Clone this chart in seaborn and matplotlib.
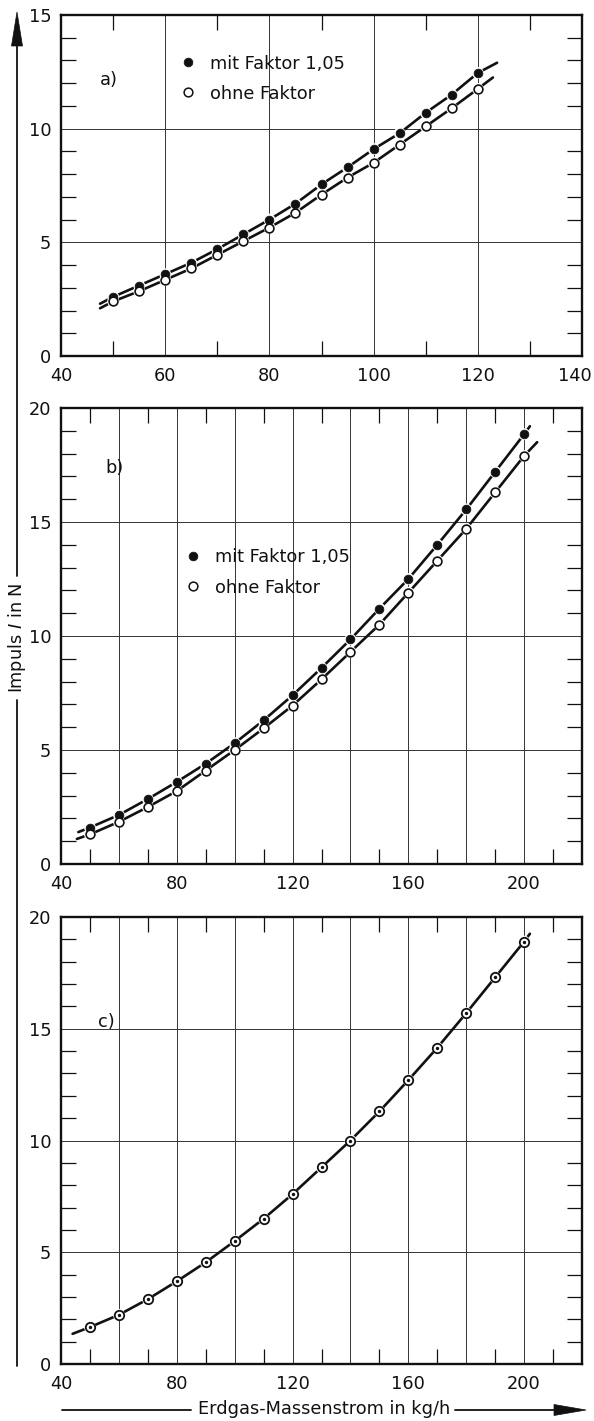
import numpy as np
import pandas as pd
import matplotlib
matplotlib.use("Agg")
import matplotlib.pyplot as plt
from matplotlib.lines import Line2D
from matplotlib.patches import Polygon
from matplotlib.transforms import IdentityTransform, ScaledTranslation
import seaborn as sns

# ---------------- data ----------------
# panel a)
a_x = [50, 55, 60, 65, 70, 75, 80, 85, 90, 95, 100, 105, 110, 115, 120]
a_mit = [2.6, 3.1, 3.6, 4.1, 4.7, 5.35, 6.0, 6.7, 7.55, 8.3, 9.1, 9.8, 10.7, 11.5, 12.45]
a_ohne = [2.4, 2.85, 3.35, 3.85, 4.45, 5.05, 5.65, 6.3, 7.1, 7.85, 8.5, 9.3, 10.1, 10.9, 11.75]
a_mit_start, a_mit_end = (47.5, 2.3), (123.7, 12.9)
a_ohne_start, a_ohne_end = (47.5, 2.1), (122.9, 12.25)

# panel b)
b_x = [50, 60, 70, 80, 90, 100, 110, 120, 130, 140, 150, 160, 170, 180, 190, 200]
b_mit = [1.6, 2.15, 2.85, 3.6, 4.4, 5.3, 6.3, 7.4, 8.6, 9.85, 11.2, 12.5, 14.0, 15.55, 17.2, 18.85]
b_ohne = [1.3, 1.85, 2.5, 3.2, 4.1, 5.0, 5.95, 6.95, 8.1, 9.3, 10.5, 11.9, 13.3, 14.7, 16.3, 17.9]
b_mit_start, b_mit_end = (46.0, 1.4), (202.0, 19.2)
b_ohne_start, b_ohne_end = (45.5, 1.1), (204.5, 18.5)

# panel c)
c_x = [50, 60, 70, 80, 90, 100, 110, 120, 130, 140, 150, 160, 170, 180, 190, 200]
c_y = [1.65, 2.2, 2.9, 3.7, 4.55, 5.5, 6.5, 7.6, 8.8, 10.0, 11.3, 12.7, 14.15, 15.7, 17.3, 18.9]
c_start, c_end = (44.0, 1.35), (202.0, 19.25)

legend_labels = ["mit Faktor 1,05", "ohne Faktor"]
panel_labels = ["a)", "b)", "c)"]
y_label = "Impuls $\\mathit{I}$ in N"
x_label = "Erdgas-Massenstrom in kg/h"

a_xticks = [40, 60, 80, 100, 120, 140]
bc_xticks = [40, 60, 80, 100, 120, 140, 160, 180, 200, 220]
bc_xticklabels = ["40", "", "80", "", "120", "", "160", "", "200", ""]

# ---------------- style ----------------
sns.set_style("white")
plt.rcParams["font.family"] = ["DejaVu Sans"]
plt.rcParams["mathtext.fontset"] = "dejavusans"
FS = 12.8
INK = "#111111"

W, H = 594, 1421
fig = plt.figure(figsize=(W / 100, H / 100), dpi=100)


def ax_at(left, top, right, bottom):
    return fig.add_axes([left / W, 1 - bottom / H, (right - left) / W, (bottom - top) / H])


axA = ax_at(61, 15, 582, 356)
axB = ax_at(61, 408, 582, 864)
axC = ax_at(61, 917, 582, 1364)


def style(ax, xlim, ylim, xmajor, xlabels, ymajor):
    ax.set_xlim(*xlim)
    ax.set_ylim(*ylim)
    ax.set_xticks(xmajor)
    ax.set_xticklabels(xlabels)
    xminor = [v + 10 for v in range(xlim[0], xlim[1], 20)]
    ax.set_xticks(xminor, minor=True)
    ax.set_yticks(ymajor)
    ax.set_yticklabels([str(v) for v in ymajor])
    ax.set_yticks([v for v in range(ylim[0], ylim[1] + 1) if v % 5 != 0], minor=True)
    ax.grid(True, which="major", color="#333333", lw=0.7)
    ax.grid(False, which="minor")
    ax.tick_params(which="major", length=0, labelsize=FS, labelcolor=INK)
    ax.tick_params(axis="x", which="major", pad=8)
    ax.tick_params(axis="y", which="major", pad=7)
    ax.tick_params(which="minor", direction="in", length=11, width=0.9, color=INK,
                   top=True, right=True, bottom=True, left=True)
    for s in ax.spines.values():
        s.set_linewidth(1.7)
        s.set_color(INK)
        s.set_visible(True)
    ax.set_axisbelow(True)
    ax.set_xlabel("")
    ax.set_ylabel("")


def curve(ax, xs, ys, start, end):
    df = pd.DataFrame({"x": [start[0]] + list(xs) + [end[0]],
                       "y": [start[1]] + list(ys) + [end[1]]})
    sns.lineplot(data=df, x="x", y="y", ax=ax, color=INK, lw=1.9,
                 sort=False, estimator=None, zorder=3)


def points(ax, xs, ys, kind):
    df = pd.DataFrame({"x": xs, "y": ys})
    # white halo so the line shows a small gap around each marker
    sns.scatterplot(data=df, x="x", y="y", ax=ax, s=72, color="white",
                    edgecolor="none", linewidth=0, zorder=4)
    if kind == "filled":
        sns.scatterplot(data=df, x="x", y="y", ax=ax, s=40, color=INK,
                        edgecolor=INK, linewidth=0.5, zorder=5)
    elif kind == "open":
        sns.scatterplot(data=df, x="x", y="y", ax=ax, s=40, color="white",
                        edgecolor=INK, linewidth=1.2, zorder=5)
    else:  # bullseye
        sns.scatterplot(data=df, x="x", y="y", ax=ax, s=46, color="white",
                        edgecolor=INK, linewidth=1.3, zorder=5)
        sns.scatterplot(data=df, x="x", y="y", ax=ax, s=6, color=INK,
                        edgecolor=INK, linewidth=0, zorder=6)


def legend(ax, bx, by):
    h1 = Line2D([], [], ls="none", marker="o", ms=6.3, mfc=INK, mec=INK, mew=0.5)
    h2 = Line2D([], [], ls="none", marker="o", ms=6.3, mfc="white", mec=INK, mew=1.1)
    ax.legend([h1, h2], legend_labels, loc="upper left", bbox_to_anchor=(bx, by),
              frameon=False, borderpad=0, borderaxespad=0, handlelength=0.8,
              handletextpad=0.85, labelspacing=0.68, fontsize=FS, labelcolor=INK)


# ---- panel a
curve(axA, a_x, a_mit, a_mit_start, a_mit_end)
curve(axA, a_x, a_ohne, a_ohne_start, a_ohne_end)
points(axA, a_x, a_mit, "filled")
points(axA, a_x, a_ohne, "open")
style(axA, (40, 140), (0, 15), a_xticks, [str(v) for v in a_xticks], [0, 5, 10, 15])
legend(axA, 0.230, 0.884)
axA.text(0.092, 0.809, panel_labels[0], transform=axA.transAxes, fontsize=FS,
         ha="center", va="center", color=INK)
# the last tick label sits slightly inside the figure edge, as in the reference
last = axA.get_xticklabels()[-1]
last.set_transform(last.get_transform() + ScaledTranslation(-7 / 100, 0, fig.dpi_scale_trans))

# ---- panel b
curve(axB, b_x, b_mit, b_mit_start, b_mit_end)
curve(axB, b_x, b_ohne, b_ohne_start, b_ohne_end)
points(axB, b_x, b_mit, "filled")
points(axB, b_x, b_ohne, "open")
style(axB, (40, 220), (0, 20), bc_xticks, bc_xticklabels, [0, 5, 10, 15, 20])
legend(axB, 0.240, 0.692)
axB.text(0.102, 0.868, panel_labels[1], transform=axB.transAxes, fontsize=FS,
         ha="center", va="center", color=INK)

# ---- panel c
curve(axC, c_x, c_y, c_start, c_end)
points(axC, c_x, c_y, "bullseye")
style(axC, (40, 220), (0, 20), bc_xticks, bc_xticklabels, [0, 5, 10, 15, 20])
axC.text(0.088, 0.765, panel_labels[2], transform=axC.transAxes, fontsize=FS,
         ha="center", va="center", color=INK)

# ---------------- axis titles with arrows (pixel coordinates) ----------------
ID = IdentityTransform()
renderer = fig.canvas.get_renderer()


def pline(x0, y0, x1, y1, lw=1.3):
    fig.add_artist(Line2D([x0, x1], [H - y0, H - y1], transform=ID, color=INK, lw=lw))


def ppoly(pts):
    fig.add_artist(Polygon([(x, H - y) for x, y in pts], closed=True, transform=ID,
                           facecolor=INK, edgecolor=INK, lw=0.5))


# vertical title
yl_x, yl_c = 17, 638
t = fig.text(yl_x / W, 1 - yl_c / H, y_label, rotation=90, ha="center", va="center",
             fontsize=FS, color=INK)
bb = t.get_window_extent(renderer)
t_top = H - bb.y1
t_bot = H - bb.y0
pline(yl_x, 1366, yl_x, t_bot + 7)
pline(yl_x, t_top - 7, yl_x, 40)
ppoly([(yl_x, 12), (yl_x - 5.5, 46), (yl_x + 5.5, 46)])

# horizontal title
xl_c, xl_y = 324, 1409
t2 = fig.text(xl_c / W, 1 - xl_y / H, x_label, ha="center", va="center",
              fontsize=FS, color=INK)
bb2 = t2.get_window_extent(renderer)
pline(62, xl_y + 1, bb2.x0 - 7, xl_y + 1)
pline(bb2.x1 + 5, xl_y + 1, 560, xl_y + 1)
ppoly([(586, xl_y + 1), (554, xl_y - 4.5), (554, xl_y + 6.5)])

fig.savefig("out.png", dpi=100, facecolor="white")
